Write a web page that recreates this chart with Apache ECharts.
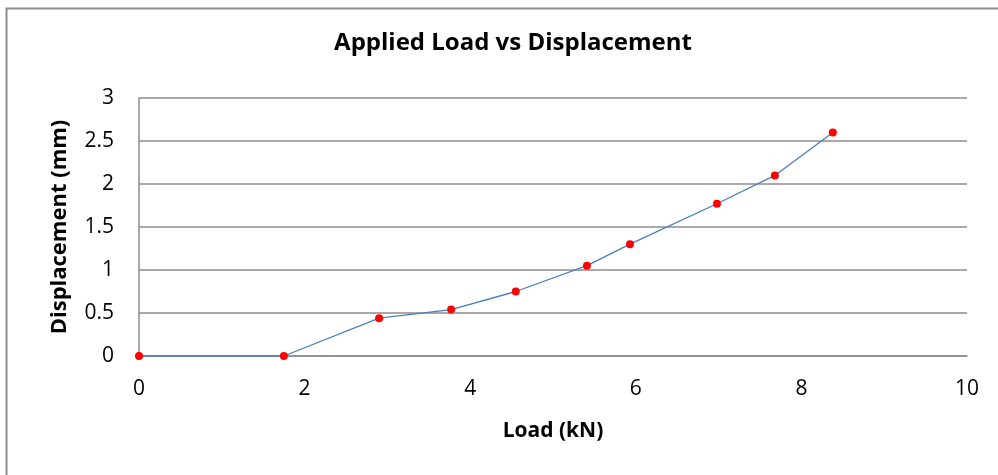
<!DOCTYPE html>
<html>
<head>
<meta charset="utf-8">
<script src="https://cdn.jsdelivr.net/npm/echarts@6/dist/echarts.min.js"></script>
<style>
  html, body { margin: 0; padding: 0; background: #fff; }
  #chart { width: 998px; height: 475px; }
</style>
</head>
<body>
<div id="chart"></div>
<script>
// Load (kN) against measured displacement (mm)
const loadKN = [0, 1.75, 2.90, 3.77, 4.55, 5.41, 5.93, 6.98, 7.68, 8.38];
const displacementMM = [0, 0, 0.44, 0.54, 0.75, 1.05, 1.30, 1.77, 2.10, 2.60];

const FONT = '"Open Sans", Lato, sans-serif';

const points = loadKN.map((x, i) => [x, displacementMM[i]]);

const chart = echarts.init(document.getElementById('chart'), null, { renderer: 'canvas' });
chart.setOption({
  animation: false,
  backgroundColor: '#ffffff',
  title: {
    text: 'Applied Load vs Displacement',
    left: 508,
    top: 26,
    textAlign: 'center',
    textStyle: { fontFamily: FONT, fontWeight: 'bold', fontSize: 24, color: '#000' }
  },
  graphic: [{
    type: 'rect',
    shape: { x: 6.5, y: 8.5, width: 1100, height: 600 },
    style: { fill: 'none', stroke: '#8c8c8c', lineWidth: 2 },
    silent: true,
    z: 100
  }],
  grid: { left: 139, right: 31, top: 98, bottom: 119 },
  xAxis: {
    type: 'value',
    min: 0, max: 10, interval: 2,
    name: 'Load (kN)',
    nameLocation: 'middle',
    nameGap: 65,
    nameTextStyle: { fontFamily: FONT, fontWeight: 'bold', fontSize: 21, color: '#000' },
    axisLine: { show: true, lineStyle: { color: '#8c8c8c', width: 1.5 } },
    axisTick: { show: false },
    splitLine: { show: false },
    axisLabel: { fontFamily: FONT, fontSize: 21, color: '#000', margin: 23 }
  },
  yAxis: {
    type: 'value',
    min: 0, max: 3, interval: 0.5,
    name: 'Displacement (mm)',
    nameLocation: 'middle',
    nameGap: 68,
    nameRotate: 90,
    nameTextStyle: { fontFamily: FONT, fontWeight: 'bold', fontSize: 22, color: '#000' },
    axisLine: { show: true, lineStyle: { color: '#8c8c8c', width: 1.5 } },
    axisTick: { show: false },
    splitLine: { show: true, lineStyle: { color: '#8c8c8c', width: 1.5 } },
    axisLabel: { fontFamily: FONT, fontSize: 21, color: '#000', margin: 25 }
  },
  series: [{
    type: 'line',
    data: points,
    symbol: 'circle',
    symbolSize: 8,
    itemStyle: { color: '#ff0000', borderWidth: 0 },
    lineStyle: { color: '#4a7ebb', width: 1.3 },
    z: 5
  }]
});
</script>
</body>
</html>
